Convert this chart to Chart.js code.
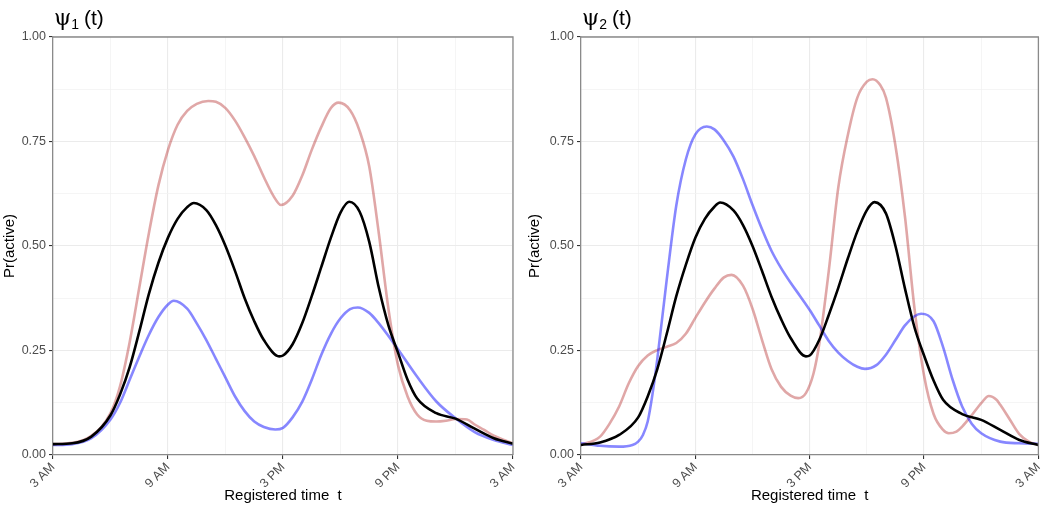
<!DOCTYPE html>
<html>
<head>
<meta charset="utf-8">
<script src="https://cdn.jsdelivr.net/npm/chart.js@4.4.1/dist/chart.umd.min.js"></script>
<style>
  html, body { margin: 0; padding: 0; background: #fff; }
  #wrap { position: relative; width: 1050px; height: 513px; }
  .panel { position: absolute; top: 0; width: 525px; height: 513px; }
</style>
</head>
<body>
<div id="wrap">
  <div class="panel" style="left:0"><canvas id="psi1" width="525" height="513"></canvas></div>
  <div class="panel" style="left:525px"><canvas id="psi2" width="525" height="513"></canvas></div>
</div>
<script>
// hours since 3 AM, ticks every 6 h
const xTickLabels = ['3 AM', '9 AM', '3 PM', '9 PM', '3 AM'];
const yTickLabels = ['0.00', '0.25', '0.50', '0.75', '1.00'];
const panelSubs = ['1', '2'];

// panel 1 (psi_1)
const p1BlackT = [0,1,2,3,3.5,4,4.5,5,5.5,6,6.5,7,7.35,8,8.5,9,9.5,10,10.5,11,11.8,12,12.5,13,13.5,14,14.5,15,15.45,16,16.5,17,17.5,18,18.5,19,20,21,22,23,24];
const p1BlackV = [0.026,0.028,0.044,0.095,0.145,0.21,0.295,0.385,0.46,0.52,0.565,0.593,0.603,0.586,0.55,0.50,0.44,0.375,0.32,0.275,0.236,0.238,0.265,0.315,0.38,0.45,0.52,0.58,0.606,0.582,0.51,0.40,0.31,0.245,0.18,0.135,0.10,0.087,0.063,0.04,0.027];
const p1RedT = [0,1,2,3,3.5,4,4.5,5,5.5,6,6.5,7,7.5,8.1,8.5,9,9.5,10,10.5,11,11.5,11.9,12.5,13,13.5,14,14.5,14.9,15.5,16,16.5,17,17.5,18,18.5,19,19.5,20,20.5,21,21.6,22,22.5,23,24];
const p1RedV = [0.026,0.029,0.046,0.10,0.165,0.27,0.40,0.53,0.645,0.73,0.79,0.823,0.84,0.847,0.845,0.83,0.80,0.76,0.715,0.665,0.62,0.598,0.62,0.668,0.73,0.785,0.83,0.843,0.825,0.775,0.69,0.53,0.35,0.215,0.14,0.097,0.082,0.08,0.082,0.086,0.085,0.073,0.06,0.046,0.028];
const p1BlueT = [0,1,2,3,3.5,4,4.5,5,5.5,6,6.3,7,7.5,8,8.5,9,9.5,10,10.5,11,11.6,12,12.5,13,13.5,14,14.5,15,15.5,15.9,16.5,17,17.5,18,19,20,21,22,23,24];
const p1BlueV = [0.024,0.026,0.04,0.085,0.125,0.18,0.235,0.287,0.33,0.36,0.369,0.35,0.315,0.275,0.23,0.185,0.14,0.105,0.08,0.067,0.061,0.065,0.09,0.127,0.18,0.24,0.29,0.327,0.349,0.353,0.34,0.315,0.285,0.253,0.187,0.128,0.088,0.055,0.036,0.024];

// panel 2 (psi_2)
const p2BlackT = [0,1,2,3,3.5,4,4.5,5,5.5,6,6.5,7,7.3,8,8.5,9,9.5,10,10.5,11,11.8,12,12.5,13,13.5,14,14.5,15,15.4,16,16.5,17,17.5,18,18.5,19,20,21,22,23,24];
const p2BlackV = [0.024,0.03,0.048,0.09,0.14,0.205,0.29,0.38,0.455,0.52,0.565,0.594,0.604,0.585,0.55,0.50,0.44,0.378,0.325,0.28,0.236,0.238,0.275,0.335,0.40,0.47,0.535,0.586,0.605,0.578,0.50,0.398,0.305,0.238,0.178,0.132,0.098,0.084,0.06,0.036,0.024];
const p2RedT = [0,1,1.5,2,2.5,3,3.5,4,4.5,5,5.5,6,6.5,7,7.5,7.9,8.5,9,9.5,10,10.5,11,11.4,11.8,12.2,12.5,13,13.5,14,14.5,15,15.3,15.7,16,16.5,17,17.5,18,18.5,19,19.3,19.7,20,20.5,21,21.4,21.8,22,22.5,23,23.5,24];
const p2RedV = [0.024,0.044,0.075,0.116,0.171,0.213,0.238,0.251,0.259,0.268,0.29,0.328,0.365,0.398,0.425,0.431,0.405,0.35,0.275,0.205,0.163,0.142,0.136,0.148,0.195,0.265,0.44,0.64,0.765,0.855,0.893,0.899,0.885,0.855,0.74,0.57,0.35,0.19,0.098,0.06,0.052,0.056,0.068,0.095,0.124,0.141,0.132,0.12,0.085,0.05,0.032,0.024];
const p2BlueT = [0,1,2,2.7,3,3.25,3.5,3.75,4,4.5,5,5.5,6,6.6,7,7.5,8,8.5,9,9.5,10,10.5,11,11.5,12,12.5,13,13.5,14,14.5,14.9,15.5,16,16.5,17,17.5,17.85,18.5,19,19.5,20,20.5,21,22,23,24];
const p2BlueV = [0.028,0.022,0.02,0.024,0.032,0.048,0.08,0.145,0.228,0.42,0.597,0.707,0.767,0.786,0.779,0.752,0.714,0.66,0.598,0.54,0.488,0.447,0.412,0.38,0.347,0.31,0.273,0.245,0.225,0.211,0.206,0.215,0.24,0.275,0.31,0.332,0.338,0.32,0.258,0.18,0.116,0.075,0.052,0.032,0.028,0.027];

function pts(ts, vs) {
  return ts.map((t, i) => ({ x: t, y: vs[i] }));
}

function line(data, color, order) {
  return {
    data,
    borderColor: color,
    borderWidth: 2.6,
    pointRadius: 0,
    cubicInterpolationMode: 'monotone',
    fill: false,
    order
  };
}

const isMajorX = c => c.tick && c.tick.value % 6 === 0;
const isMajorY = c => c.tick && Math.round(c.tick.value / 0.125) % 2 === 0;

const frameAndTitle = {
  id: 'frameAndTitle',
  afterDraw(chart, args, opts) {
    const { ctx, chartArea: a } = chart;
    ctx.save();
    ctx.strokeStyle = '#8a8a8a';
    ctx.lineWidth = 1.3;
    ctx.beginPath();
    ctx.moveTo(a.left, a.top);
    ctx.lineTo(a.right, a.top);
    ctx.lineTo(a.right, a.bottom);
    ctx.stroke();

    ctx.fillStyle = '#000';
    ctx.textBaseline = 'alphabetic';
    let x = a.left + 1;
    ctx.font = '22px "DejaVu Serif"';
    ctx.fillText('ψ', x, 25);
    x += ctx.measureText('ψ').width;
    ctx.font = '14px "Liberation Sans"';
    ctx.fillText(opts.sub, x, 29);
    x += ctx.measureText(opts.sub).width + 5;
    ctx.font = '21px "Liberation Sans"';
    ctx.fillText('(t)', x, 25);
    ctx.restore();
  }
};

function makeChart(id, sub, yWidth, padRight, black, red, blue) {
  new Chart(document.getElementById(id), {
    type: 'line',
    data: {
      datasets: [
        line(black, '#000000', 0),
        line(blue, 'rgba(0, 0, 255, 0.47)', 1),
        line(red, 'rgba(178, 34, 34, 0.4)', 2)
      ]
    },
    options: {
      responsive: false,
      animation: false,
      layout: { padding: { top: 37, right: padRight, bottom: 8, left: 0 } },
      plugins: {
        legend: { display: false },
        tooltip: { enabled: false },
        frameAndTitle: { sub }
      },
      scales: {
        x: {
          type: 'linear',
          min: 0,
          max: 24,
          afterFit: s => { s.height = 50; },
          ticks: {
            stepSize: 3,
            autoSkip: false,
            minRotation: 45,
            maxRotation: 45,
            padding: 1,
            color: '#4d4d4d',
            font: { family: 'Liberation Sans', size: 12.5 },
            callback: v => (v % 6 === 0 ? xTickLabels[v / 6] : '')
          },
          grid: {
            color: c => (isMajorX(c) ? '#ebebeb' : '#f3f3f3'),
            lineWidth: c => (isMajorX(c) ? 1.1 : 0.8),
            tickColor: c => (isMajorX(c) ? '#333' : 'rgba(0,0,0,0)'),
            tickLength: 4
          },
          border: { color: '#8a8a8a', width: 1.3 },
          title: {
            display: true,
            text: 'Registered time  t',
            color: '#000',
            font: { family: 'Liberation Sans', size: 15 },
            padding: 0
          }
        },
        y: {
          min: 0,
          max: 1,
          afterFit: s => { s.width = yWidth; },
          ticks: {
            stepSize: 0.125,
            autoSkip: false,
            padding: 3,
            color: '#4d4d4d',
            font: { family: 'Liberation Sans', size: 12.5 },
            callback: v => {
              const k = Math.round(v / 0.125);
              return k % 2 === 0 ? yTickLabels[k / 2] : '';
            }
          },
          grid: {
            color: c => (isMajorY(c) ? '#ebebeb' : '#f3f3f3'),
            lineWidth: c => (isMajorY(c) ? 1.1 : 0.8),
            tickColor: c => (isMajorY(c) ? '#333' : 'rgba(0,0,0,0)'),
            tickLength: 4
          },
          border: { color: '#8a8a8a', width: 1.3 },
          title: {
            display: true,
            text: 'Pr(active)',
            color: '#000',
            font: { family: 'Liberation Sans', size: 15 },
            padding: { top: 1, bottom: 0 }
          }
        }
      }
    },
    plugins: [frameAndTitle]
  });
}

makeChart('psi1', panelSubs[0], 53, 12,
  pts(p1BlackT, p1BlackV), pts(p1RedT, p1RedV), pts(p1BlueT, p1BlueV));
makeChart('psi2', panelSubs[1], 56, 8,
  pts(p2BlackT, p2BlackV), pts(p2RedT, p2RedV), pts(p2BlueT, p2BlueV));
</script>
</body>
</html>
